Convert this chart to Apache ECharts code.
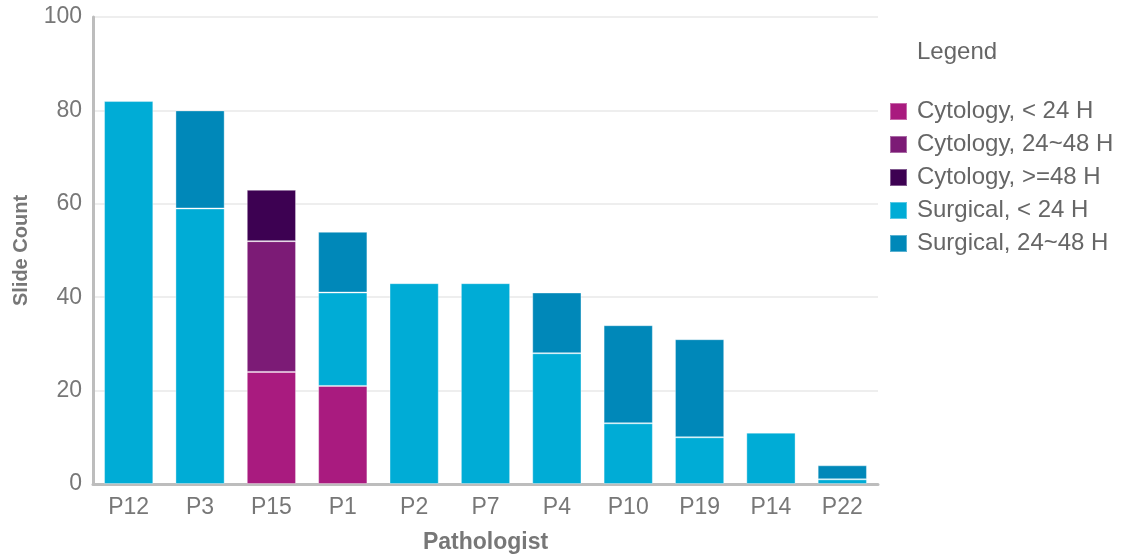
<!DOCTYPE html>
<html>
<head>
<meta charset="utf-8">
<script src="https://cdn.jsdelivr.net/npm/echarts@6/dist/echarts.min.js"></script>
<style>
  html, body { margin: 0; padding: 0; background: #fff; }
  #chart { width: 1146px; height: 558px; }
</style>
</head>
<body>
<div id="chart"></div>
<script>
// Slide counts per pathologist, split by specimen type and turnaround time
const categories = ['P12', 'P3', 'P15', 'P1', 'P2', 'P7', 'P4', 'P10', 'P19', 'P14', 'P22'];
const seriesNames = ['Cytology, < 24 H', 'Cytology, 24~48 H', 'Cytology, >=48 H', 'Surgical, < 24 H', 'Surgical, 24~48 H'];
const cytologyLt24   = [0, 0, 24, 21, 0, 0, 0, 0, 0, 0, 0];
const cytology24to48 = [0, 0, 28, 0, 0, 0, 0, 0, 0, 0, 0];
const cytologyGe48   = [0, 0, 11, 0, 0, 0, 0, 0, 0, 0, 0];
const surgicalLt24   = [82, 59, 0, 20, 43, 43, 28, 13, 10, 11, 1];
const surgical24to48 = [0, 21, 0, 13, 0, 0, 13, 21, 21, 0, 3];
const yTicks = [0, 20, 40, 60, 80, 100];

const colors = ['#A91B7F', '#7C1B76', '#3D0152', '#00ACD6', '#0088B9'];
const valueSets = [cytologyLt24, cytology24to48, cytologyGe48, surgicalLt24, surgical24to48];
const font = '"Liberation Sans", Arial, sans-serif';

const chart = echarts.init(document.getElementById('chart'), null, { renderer: 'canvas' });
chart.setOption({
  animation: false,
  color: colors,
  textStyle: { fontFamily: font },
  title: {
    text: 'Legend',
    left: 912, top: 33,
    textStyle: { fontFamily: font, fontSize: 24, fontWeight: 'normal', color: '#666', lineHeight: 28 }
  },
  legend: {
    orient: 'vertical',
    left: 884, top: 94,
    itemWidth: 17, itemHeight: 17,
    itemGap: 8,
    icon: 'rect',
    data: seriesNames,
    textStyle: { fontFamily: font, fontSize: 24, color: '#666', lineHeight: 25, padding: [0, 0, 0, 5] }
  },
  grid: { left: 93, top: 17, right: 268, bottom: 74, containLabel: false, outerBoundsMode: 'none' },
  xAxis: {
    type: 'category',
    data: categories,
    name: 'Pathologist',
    nameLocation: 'middle',
    nameGap: 47,
    nameTextStyle: { fontFamily: font, fontSize: 23, fontWeight: 'bold', color: '#777' },
    axisLine: { lineStyle: { color: '#bdbdbd', width: 3 } },
    axisTick: { show: false },
    axisLabel: { fontFamily: font, fontSize: 23, color: '#777', margin: 12 }
  },
  yAxis: {
    type: 'value',
    min: yTicks[0], max: yTicks[yTicks.length - 1], interval: 20,
    name: 'Slide Count',
    nameLocation: 'middle',
    nameGap: 62,
    nameTextStyle: { fontFamily: font, fontSize: 20, fontWeight: 'bold', color: '#777' },
    axisLine: { show: true, lineStyle: { color: '#bdbdbd', width: 3 } },
    axisTick: { show: false },
    axisLabel: { fontFamily: font, fontSize: 23, color: '#777', margin: 11 },
    splitLine: { lineStyle: { color: '#e8e8e8', width: 1.5 } }
  },
  series: seriesNames.map((name, i) => ({
    name: name,
    type: 'bar',
    stack: 'total',
    barWidth: '69%',
    itemStyle: { color: colors[i], borderColor: 'rgba(255,255,255,0.35)', borderWidth: 1 },
    data: valueSets[i].map(v => (v === 0 ? null : v))
  }))
});
</script>
</body>
</html>
